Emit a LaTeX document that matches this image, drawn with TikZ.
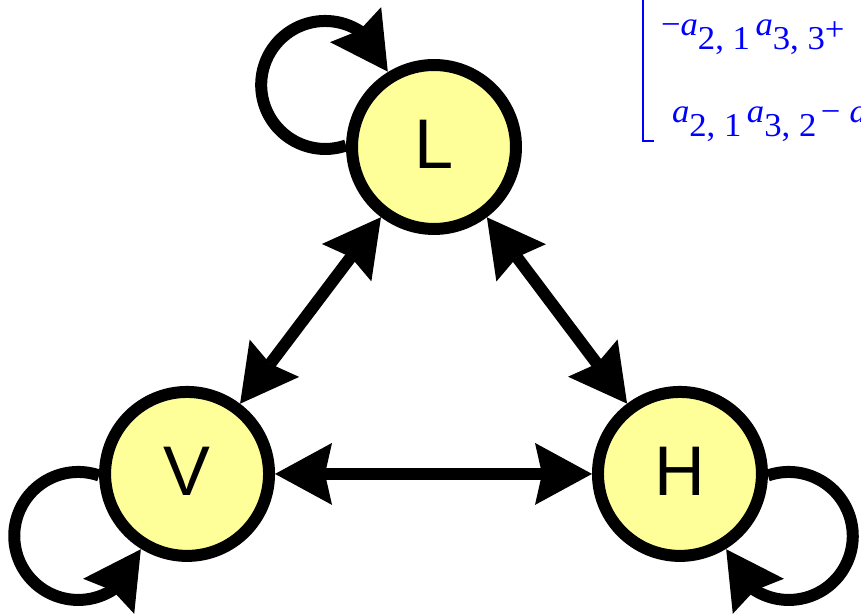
\documentclass[tikz,border=0pt]{standalone}
\usepackage{fontspec}
\usepackage{graphicx}
\setmainfont{Liberation Sans}
\newfontfamily\maplefont{Liberation Serif}
\usetikzlibrary{automata,positioning,arrows.meta,bending}
\definecolor{nodefill}{RGB}{255,255,153}
\definecolor{mapleblue}{RGB}{0,0,255}
\newcommand{\msub}[2]{\lower7.5pt\hbox{#1, #2}}

\begin{document}
\begin{tikzpicture}[x=0.02cm,y=0.02cm,on grid,
  >={Stealth[length=1.14cm,width=1.24cm,inset=0.14cm,line width=0pt,flex]},
  line width=0.24cm]
\tikzstyle{every state}=[fill=nodefill,draw=black,text=black,line width=0.24cm,
  minimum size=3.28cm,inner sep=0pt,font=\fontsize{40}{48}\selectfont,
  text height=1.02cm,text depth=0.16cm]
\tikzstyle{matrow}=[anchor=base west,inner sep=0pt,text=mapleblue,
  font=\maplefont\fontsize{19}{22}\selectfont]
\useasboundingbox (0,0) rectangle (861,614);
\clip (0,0) rectangle (861,614);
\node[state] (L) at (434,467) {L};
\node[state] (V) [below left=6.54cm and 4.94cm of L] {V};
\node[state] (H) [right=9.86cm of V] {H};
\path
(L) edge[<->] (V)
(L) edge[<->] (H)
(V) edge[<->] (H);
% self loops
\draw[->] (L.179) arc[start angle=-71,end angle=-348,radius=1.28cm];
\draw[->] (V.181) arc[start angle=71,end angle=348,radius=1.28cm];
\draw[->] (H.-1) arc[start angle=109,end angle=-168,radius=1.28cm];
% matrix entries
\node[matrow] (r1) at (655,578) {\scalebox{1.04}[1]{−\textit{a}\msub{2}{1}\hspace{3pt}\textit{a}\msub{3}{3}\lower2.5pt\hbox{+}}};
\node[matrow] (r2) at (666,491) {\scalebox{1.04}[1]{\textit{a}\msub{2}{1}\hspace{3pt}\textit{a}\msub{3}{2}\hspace{2.5pt}−\hspace{5pt}\textit{a}}};
\draw[mapleblue,line width=0.055cm] (643,620) |- (654,473);
\end{tikzpicture}
\end{document}
